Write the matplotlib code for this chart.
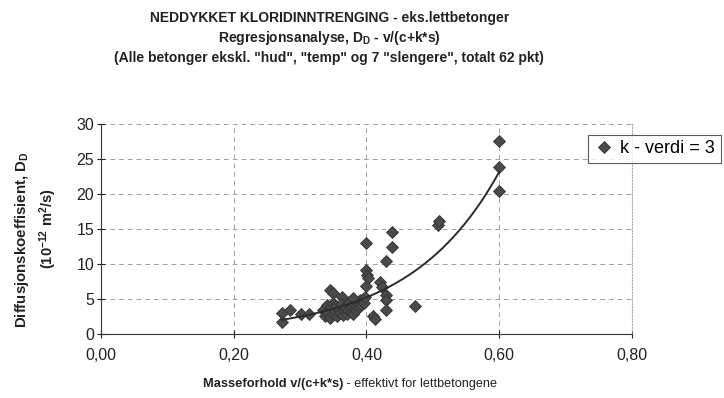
# Neddykket kloridinntrenging - regresjon D_D mot v/(c+k*s)

import numpy as np
from matplotlib import pyplot as plt

plt.rcParams['font.family'] = 'Liberation Sans'
plt.rcParams['mathtext.fontset'] = 'custom'
plt.rcParams['mathtext.rm'] = 'Liberation Sans'
plt.rcParams['mathtext.bf'] = 'Liberation Sans:bold'
plt.rcParams['mathtext.default'] = 'bf'
plt.rcParams['axes.unicode_minus'] = True

# masseforhold v/(c+k*s), k = 3
vc = [0.272, 0.272, 0.285, 0.302, 0.314,
      0.345, 0.350, 0.363,
      0.335, 0.338, 0.340, 0.342, 0.345, 0.347, 0.349, 0.350, 0.352, 0.354, 0.356,
      0.358, 0.360, 0.362, 0.364, 0.366, 0.368, 0.370, 0.372, 0.374, 0.376, 0.378,
      0.380, 0.382, 0.384, 0.386, 0.388, 0.390, 0.392, 0.394, 0.396, 0.398, 0.380,
      0.400, 0.400, 0.401, 0.403, 0.400, 0.410, 0.413,
      0.420, 0.423, 0.429, 0.429, 0.429, 0.429, 0.439, 0.439,
      0.473, 0.508, 0.510, 0.600, 0.600, 0.600]

# diffusjonskoeffisient D_D (1e-12 m2/s)
dd = [2.96, 1.76, 3.43, 2.81, 2.81,
      6.3, 5.8, 5.3,
      3.5, 2.6, 4.2, 3.0, 2.3, 3.8, 4.5, 2.8, 3.3, 4.0, 2.6,
      3.6, 3.0, 4.3, 2.7, 3.4, 3.9, 2.9, 3.5, 4.6, 3.2, 3.8,
      2.9, 4.1, 3.5, 4.4, 3.9, 4.8, 4.2, 5.0, 4.5, 5.3, 5.2,
      12.96, 9.14, 8.43, 7.95, 6.86, 2.62, 2.1,
      7.48, 6.76, 5.57, 4.86, 3.43, 10.43, 12.48, 14.6,
      4.05, 15.6, 16.2, 27.6, 23.9, 20.5]

xticks = [0.0, 0.2, 0.4, 0.6, 0.8]
yticks = [0, 5, 10, 15, 20, 25, 30]

vc = np.array(vc)
dd = np.array(dd)

# eksponentiell trendlinje (som i Excel: lineær regresjon på ln y)
b, ln_a = np.polyfit(vc, np.log(dd), 1)
xs = np.linspace(vc.min(), vc.max(), 200)
ys = np.exp(ln_a) * np.exp(b * xs)

fig = plt.figure(figsize=(7.24, 3.98), dpi=100)
ax = fig.add_axes([0.1395, 0.1608, 0.7334, 0.5276])

pts, = ax.plot(vc, dd, linestyle='none', marker='D', markersize=6,
               color='#4a4a4a', markeredgecolor='#333333', markeredgewidth=0.6,
               label='k - verdi = 3', zorder=3)
ax.plot(xs, ys, color='#2b2b2b', lw=1.4, zorder=4)

ax.set_xlim(0, 0.8)
ax.set_ylim(0, 30)
ax.set_xticks(xticks)
ax.set_yticks(yticks)
ax.set_xticklabels(['{:.2f}'.format(v).replace('.', ',') for v in xticks])
ax.tick_params(axis='both', direction='inout', length=6, width=0.8,
               labelsize=11.5, colors='#222222')
ax.tick_params(axis='x', pad=7)
ax.tick_params(axis='y', pad=2)

ax.grid(True, linestyle=(0, (5, 4)), color='#a0a0a0', lw=0.7)
ax.set_axisbelow(True)
ax.spines['top'].set_visible(False)
ax.spines['right'].set_linestyle(':')
ax.spines['right'].set_color('#aaaaaa')
ax.spines['left'].set_color('#333333')
ax.spines['bottom'].set_color('#333333')

# titler
title_kw = dict(ha='center', va='center', fontsize=10, fontweight='bold', color='#222222')
fig.text(0.455, 1 - 18 / 398, 'NEDDYKKET KLORIDINNTRENGING - eks.lettbetonger', **title_kw)
fig.text(0.455, 1 - 38 / 398, 'Regresjonsanalyse, D$_D$ - v/(c+k*s)', **title_kw)
fig.text(0.455, 1 - 58 / 398,
         '(Alle betonger ekskl. "hud", "temp" og 7 "slengere", totalt 62 pkt)', **title_kw)

# y-akse tekst
fig.text(22 / 724, 1 - 240 / 398, 'Diffusjonskoeffisient, D$_D$', rotation=90,
         ha='center', va='center', fontsize=10.8, fontweight='bold', color='#222222')
fig.text(48 / 724, 1 - 229 / 398, '(10$^{-12}$ m$^2$/s)', rotation=90,
         ha='center', va='center', fontsize=10.5, fontweight='bold', color='#222222')

# x-akse tekst
t1 = fig.text(203 / 724, 1 - 384 / 398, 'Masseforhold v/(c+k*s)', ha='left',
              va='center', fontsize=9.3, fontweight='bold', color='#222222')
ax.annotate(' - effektivt for lettbetongene', xy=(1, 0.5), xycoords=t1,
            ha='left', va='center', fontsize=9.1, color='#222222')

leg = fig.legend(handles=[pts], loc='upper left', bbox_to_anchor=(0.812, 0.661),
                 borderaxespad=0, fontsize=13, frameon=True, fancybox=False,
                 borderpad=0.3, handletextpad=0.3, handlelength=1.2)
leg.get_frame().set_edgecolor('#333333')
leg.get_frame().set_linewidth(0.8)

plt.savefig('out.png', dpi=100)
